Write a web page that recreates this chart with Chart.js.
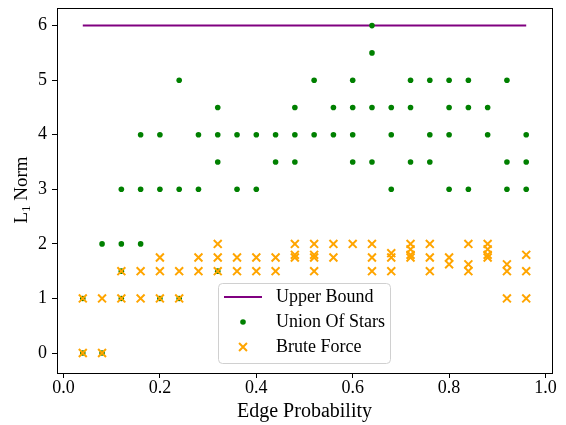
<!DOCTYPE html>
<html>
<head>
<meta charset="utf-8">
<script src="https://cdn.jsdelivr.net/npm/chart.js@4.4.0/dist/chart.umd.min.js"></script>
<style>
  html, body { margin: 0; padding: 0; background: #fff; }
</style>
</head>
<body>
<canvas id="chart" width="566" height="425"></canvas>
<script>
// tick labels
const xTicks = [0, 0.2, 0.4, 0.6, 0.8, 1.0];
const yTicks = [0, 1, 2, 3, 4, 5, 6];

// upper bound line
const boundX = [0.04, 0.96];
const boundY = [6, 6];

// edge probabilities (one column of samples each)
const probs = [0.04, 0.08, 0.12, 0.16, 0.2, 0.24, 0.28, 0.32, 0.36, 0.4, 0.44, 0.48,
               0.52, 0.56, 0.6, 0.64, 0.68, 0.72, 0.76, 0.8, 0.84, 0.88, 0.92, 0.96];

// L1 norm values found by union of stars, per column
const starsVals = [
  [1, 0], [2, 0], [3, 2, 1.5, 1], [4, 3, 2], [4, 3, 1], [5, 3, 1],
  [4, 3], [4.5, 4, 3.5, 1.5], [4, 3], [4, 3], [4, 3.5], [4.5, 4, 3.5],
  [5, 4], [4.5, 4], [5, 4.5, 4, 3.5], [6, 5.5, 4.5, 3.5], [4.5, 4, 3], [5, 4.5, 3.5],
  [5, 4, 3.5], [5, 4.5, 4, 3], [5, 4.5, 3], [4.5, 4], [5, 3.5, 3], [4, 3.5, 3]
];

// L1 norm values found by brute force, per column
const bruteVals = [
  [1, 0], [1, 0], [1.5, 1], [1.5, 1], [1.75, 1.5, 1], [1.5, 1],
  [1.75, 1.5], [2, 1.75, 1.5], [1.75, 1.5], [1.75, 1.5], [1.75, 1.5], [2, 1.8, 1.75],
  [2, 1.8, 1.75, 1.5], [2, 1.75], [2], [2, 1.75, 1.5], [1.83, 1.75, 1.5], [2, 1.9, 1.8, 1.75],
  [2, 1.75, 1.5], [1.75, 1.625], [2, 1.625, 1.5], [2, 1.9, 1.8, 1.75], [1.625, 1.5, 1], [1.8, 1.5, 1]
];

const FONT = "'Liberation Serif', 'Times New Roman', serif";

const toPoints = (vals) => {
  const pts = [];
  vals.forEach((col, i) => col.forEach(v => pts.push({ x: probs[i], y: v })));
  return pts;
};

// frame round the plot + custom legend + y title with subscript
const extras = {
  id: 'extras',
  afterDraw(chart) {
    const ctx = chart.ctx;
    const a = chart.chartArea;
    ctx.save();
    ctx.strokeStyle = '#000';
    ctx.lineWidth = 1;
    ctx.strokeRect(Math.round(a.left) + 0.5, Math.round(a.top) + 0.5,
                   Math.round(a.right - a.left), Math.round(a.bottom - a.top));

    // y axis title: L_1 Norm
    ctx.translate(22, 190);
    ctx.rotate(-Math.PI / 2);
    ctx.fillStyle = '#000';
    ctx.textBaseline = 'middle';
    ctx.font = '19px ' + FONT;
    const wL = ctx.measureText('L').width;
    ctx.font = '13px ' + FONT;
    const w1 = ctx.measureText('1').width;
    ctx.font = '19px ' + FONT;
    const wN = ctx.measureText(' Norm').width;
    let x0 = -(wL + w1 + wN) / 2;
    ctx.textAlign = 'left';
    ctx.fillText('L', x0, 0);
    ctx.font = '13px ' + FONT;
    ctx.fillText('1', x0 + wL, 5);
    ctx.font = '19px ' + FONT;
    ctx.fillText(' Norm', x0 + wL + w1, 0);
    ctx.restore();

    // legend
    ctx.save();
    const bx = 218.5, by = 283.5, bw = 172, bh = 80;
    ctx.beginPath();
    ctx.roundRect(bx, by, bw, bh, 4);
    ctx.fillStyle = 'rgba(255,255,255,0.8)';
    ctx.fill();
    ctx.strokeStyle = '#d0d0d0';
    ctx.lineWidth = 1;
    ctx.stroke();

    const rows = [297, 322, 347];
    ctx.strokeStyle = 'purple';
    ctx.lineWidth = 2;
    ctx.beginPath();
    ctx.moveTo(224, rows[0]);
    ctx.lineTo(262, rows[0]);
    ctx.stroke();

    const H = Chart.helpers;
    H.drawPoint(ctx, { pointStyle: 'circle', radius: 2.8, borderWidth: 0 }, 243, rows[1]);
    ctx.fillStyle = 'green';
    ctx.fill();
    ctx.strokeStyle = 'orange';
    ctx.lineWidth = 2;
    H.drawPoint(ctx, { pointStyle: 'crossRot', radius: 5.6, borderWidth: 2 }, 243, rows[2]);

    ctx.fillStyle = '#000';
    ctx.font = '18px ' + FONT;
    ctx.textAlign = 'left';
    ctx.textBaseline = 'middle';
    ctx.fillText('Upper Bound', 276, rows[0]);
    ctx.fillText('Union Of Stars', 276, rows[1]);
    ctx.fillText('Brute Force', 276, rows[2]);
    ctx.restore();
  }
};

new Chart(document.getElementById('chart'), {
  type: 'scatter',
  data: {
    datasets: [
      {
        label: 'Upper Bound',
        data: boundX.map((x, i) => ({ x: x, y: boundY[i] })),
        showLine: true,
        borderColor: 'purple',
        borderWidth: 2,
        pointRadius: 0,
        order: 2
      },
      {
        label: 'Union Of Stars',
        data: toPoints(starsVals),
        pointStyle: 'circle',
        pointRadius: 2.8,
        backgroundColor: 'green',
        borderWidth: 0,
        order: 1
      },
      {
        label: 'Brute Force',
        data: toPoints(bruteVals),
        pointStyle: 'crossRot',
        pointRadius: 5.6,
        borderColor: 'orange',
        borderWidth: 2,
        order: 0
      }
    ]
  },
  options: {
    responsive: false,
    animation: false,
    layout: { padding: { top: 7, right: 14, left: 0, bottom: 0 } },
    plugins: { legend: { display: false }, tooltip: { enabled: false } },
    scales: {
      x: {
        type: 'linear',
        min: -0.0135,
        max: 1.0135,
        afterBuildTicks: s => { s.ticks = xTicks.map(v => ({ value: v })); },
        afterFit: s => { s.height = 52; s.paddingLeft = 0; s.paddingRight = 0; },
        border: { display: false },
        grid: { drawOnChartArea: false, color: '#000', tickLength: 5 },
        ticks: {
          color: '#000', padding: 1, maxRotation: 0, autoSkip: false,
          font: { family: FONT, size: 18, lineHeight: 1 },
          callback: v => v.toFixed(1)
        },
        title: {
          display: true, text: 'Edge Probability', color: '#000',
          font: { family: FONT, size: 20 }, padding: { top: 0, bottom: 1 }
        }
      },
      y: {
        type: 'linear',
        min: -0.366,
        max: 6.33,
        afterBuildTicks: s => { s.ticks = yTicks.map(v => ({ value: v })); },
        afterFit: s => { s.width = 57; s.paddingTop = 0; s.paddingBottom = 0; },
        border: { display: false },
        grid: { drawOnChartArea: false, color: '#000', tickLength: 5 },
        ticks: {
          color: '#000', padding: 5, autoSkip: false,
          font: { family: FONT, size: 18, lineHeight: 1 },
          callback: v => String(v)
        }
      }
    }
  },
  plugins: [extras]
});
</script>
</body>
</html>
